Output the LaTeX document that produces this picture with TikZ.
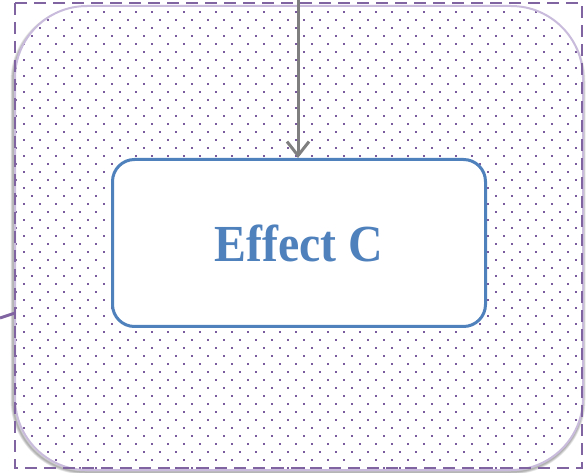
\documentclass[tikz,border=0pt]{standalone}
\usepackage{fontspec}
\setmainfont{Liberation Serif}
\newfontfamily\effectfont[FakeStretch=0.92]{Liberation Serif}
\usetikzlibrary{arrows.meta}
\definecolor{effectblue}{HTML}{4F81BD}
\definecolor{groupviolet}{HTML}{8064A2}
\definecolor{dotviolet}{HTML}{7A5C9E}
\definecolor{rimlilac}{HTML}{C8BBDC}
\definecolor{linkgray}{HTML}{7F7F7F}
\tikzset{
  effectbox/.style={draw=effectblue, line width=3pt, fill=white,
    rounded corners=22pt, minimum width=373pt, minimum height=167pt,
    text=effectblue, font=\effectfont\fontsize{52}{60}\selectfont\bfseries},
  groupframe/.style={draw=groupviolet, line width=2.5pt, dash pattern=on 12pt off 7pt},
  panelrim/.style={draw=rimlilac, line width=2pt, rounded corners=72pt},
  link/.style={draw=linkgray, line width=3pt, -{Straight Barb[length=14pt,width=22pt]}},
}
\begin{document}
\begin{tikzpicture}[x=1pt,y=-1pt]
\useasboundingbox (0,0) rectangle (587,473);
% soft shadow under the panel
\foreach \s in {1,...,5}
  \draw[black, opacity=0.07, line width=\s pt, rounded corners=72pt]
    (13,9) rectangle (583,472);
% dotted panel
\fill[white, rounded corners=72pt] (15,6) rectangle (583,470);
\begin{scope}
\clip[rounded corners=72pt] (15,6) rectangle (583,470);
\foreach \r in {0,...,58}{
  \pgfmathsetmacro\dx{mod(\r,2)*8}
  \foreach \c in {0,...,36}
    \fill[dotviolet] (\c*16+\dx-1.2,\r*8+2.8) rectangle ++(2.4,2.4);
}
\end{scope}
\draw[panelrim] (15,6) rectangle (583,470);
% group frame and incoming line
\draw[groupframe] (15,3) rectangle (582,468);
\coordinate (leftend) at (0,318);
\coordinate (join) at (15,313);
\draw[groupviolet, line width=3pt] (leftend) -- (join);
% effect node
\node[effectbox] (effect) at (299,243) {Effect C};
\coordinate (topend) at (298,0);
\draw[link] (topend) -- (effect.north -| topend);
\end{tikzpicture}
\end{document}
